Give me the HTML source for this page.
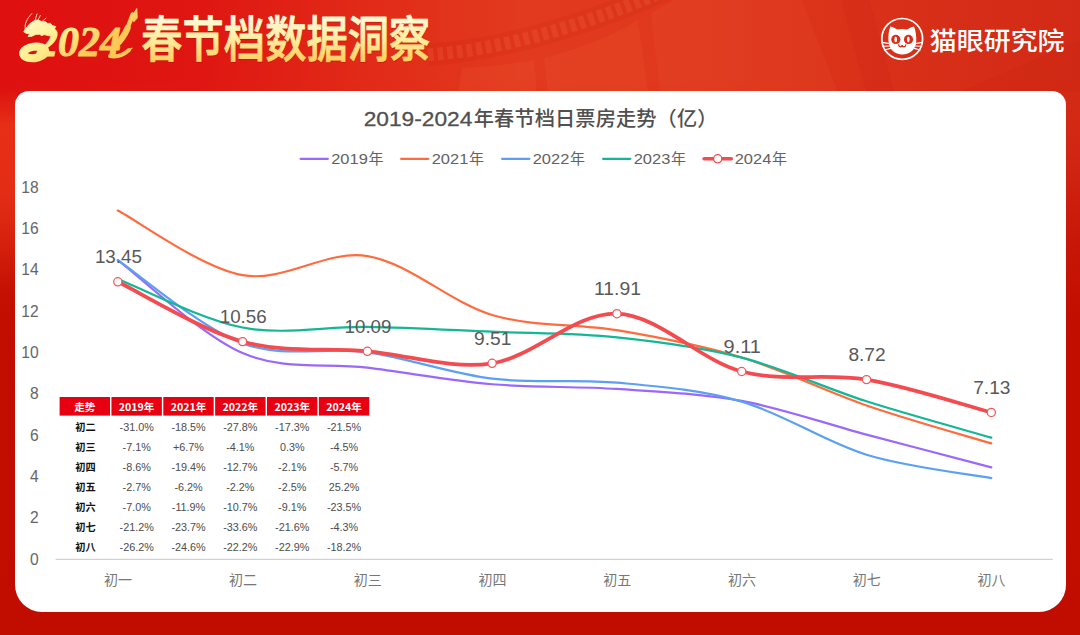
<!DOCTYPE html>
<html lang="zh-CN"><head><meta charset="utf-8"><title>2024春节档数据洞察</title>
<style>
html,body{margin:0;padding:0;}
body{width:1080px;height:635px;overflow:hidden;position:relative;background:#c20d00;font-family:"Liberation Sans","Noto Sans CJK SC",sans-serif;}
#bg{position:absolute;left:0;top:0;width:1080px;height:635px;
 background:linear-gradient(180deg,#d82c17 0px,#d62a16 95px,#cf2110 180px,#c61405 260px,#c20e00 320px,#c00d00 635px);}
#hd{position:absolute;left:0;top:0;width:1080px;height:200px;
 background:linear-gradient(90deg,#de1010 0px,#df1612 200px,#e12a18 360px,#e23a1e 520px,#e0381d 700px,#d93019 880px,#d22a16 1080px);
 -webkit-mask-image:linear-gradient(180deg,#000 0,#000 80px,transparent 200px);mask-image:linear-gradient(180deg,#000 0,#000 80px,transparent 200px);}
#lf{position:absolute;left:0;top:90px;width:16px;height:200px;background:linear-gradient(180deg,rgba(232,48,22,0) 0,rgba(232,48,22,.9) 35px,rgba(232,48,22,.85) 100px,rgba(232,48,22,0) 200px);}
#card{position:absolute;left:15.2px;top:91.3px;width:1050.6px;height:520.8px;background:#fff;border-radius:14px 14px 27px 27px;}
svg{position:absolute;left:0;top:0;}
text{font-family:"Liberation Sans","Noto Sans CJK SC",sans-serif;}
.cj{font-family:"Noto Sans CJK SC","Liberation Sans",sans-serif;}
</style></head><body>
<div id="bg"></div><div id="hd"></div><div id="lf"></div>
<div id="card"></div>
<svg width="1080" height="635" viewBox="0 0 1080 635">
<defs>
<linearGradient id="gold" gradientUnits="userSpaceOnUse" x1="0" y1="15" x2="0" y2="62"><stop offset="0" stop-color="#fffbe0"/><stop offset=".5" stop-color="#ffeea2"/><stop offset="1" stop-color="#ffcd5c"/></linearGradient>
<linearGradient id="gold2" gradientUnits="userSpaceOnUse" x1="40" y1="12" x2="75" y2="64"><stop offset="0" stop-color="#fffac4"/><stop offset=".5" stop-color="#ffee8e"/><stop offset="1" stop-color="#fcc856"/></linearGradient>
</defs>

<g id="hdr">
<text class="cj" x="141.3" y="56.6" font-size="49" font-weight="500" textLength="289" lengthAdjust="spacingAndGlyphs" fill="#a30c00" stroke="#a30c00" stroke-width=".9" opacity=".38" transform="translate(0.4,1.8)">春节档数据洞察</text>
<text class="cj" x="141.3" y="56.6" font-size="49" font-weight="500" textLength="289" lengthAdjust="spacingAndGlyphs" fill="url(#gold)" stroke="url(#gold)" stroke-width=".9" stroke-linejoin="round">春节档数据洞察</text>
<g id="film">
<path d="M428,54.8 Q535,47.4 671,-12" fill="none" stroke="#b81800" stroke-opacity=".10" stroke-width="22"/>
<path d="M428,54.8 Q535,47.4 671,-12" fill="none" stroke="#ff8a5a" stroke-opacity=".15" stroke-width="13" stroke-dasharray="5.8 3.9"/>
<path d="M462,68 Q500,66 534,60 L537,92 L458,92 Z" fill="#ff9a60" fill-opacity=".07"/>
<path d="M544,58 Q598,44 638,20 L648,92 L548,92 Z" fill="#ff9a60" fill-opacity=".07"/>
<path d="M651,13 Q690,-8 720,-30 L790,-30 L838,92 L660,92 Z" fill="#ff9a60" fill-opacity=".06"/>
<path d="M840,-5 L868,-5 L894,92 L866,92 Z" fill="#b00c00" fill-opacity=".07"/>
<path d="M960,92 L1080,40 L1080,92 Z" fill="#b00c00" fill-opacity=".06"/>
</g>
<g id="dragon" fill="none" stroke="url(#gold2)" stroke-linecap="round" stroke-linejoin="round">
<path d="M23.9,31.6 L25.2,29 L27.4,26.6 L30,23.6 L33,21.4 L36.5,20 L39.5,20.6 L42,21.8 L45,21.4 L47.5,23.4 L50.5,23.4 L52.5,25.6 L55.8,26.6 L54.4,29 L56,32 L55.6,36 L50,36 L44,34.6 L40,34.2 L35.5,34.6 L31.5,36.4 L28,36.6 L29.6,33.6 L26.6,33.4 Z" fill="url(#gold2)" stroke-width=".8"/>
<path d="M25.6,30 C23.6,25 27,18.5 31.8,13.6 M34.4,22.4 L37,14 M36.9,22 L40.4,15.4 M41.6,22 L46,18.2" stroke-width="1" stroke-opacity=".85"/>
<ellipse cx="34.2" cy="52.4" rx="11" ry="5.7" transform="rotate(-7 34.2 52.4)" stroke-width="8.2"/>
<text x="37" y="55.8" style="font-family:'Liberation Serif',serif" font-style="italic" font-weight="700" font-size="43" textLength="84" lengthAdjust="spacingAndGlyphs" fill="url(#gold2)" stroke-width=".9">2024</text>
<path d="M114.5,46.4 C120,41.5 124.8,35 127.6,28" stroke-width="6.2"/>
<path d="M126.6,30 C129,25 130.8,19.5 132.6,14.5" stroke-width="4.4"/>
<path d="M130.2,18.6 L136.8,8.6 L137.2,18 L134,21.6 Z" fill="url(#gold2)" stroke-width="1"/>
<path d="M110,56 C118.5,57.6 125,53.6 129,50" stroke-width="4"/>
<path d="M127,52 L132,48.2 L129.5,49.4 Z" fill="url(#gold2)" stroke-width="1.2"/>
</g>
<g id="cat">
<circle cx="902.2" cy="38.9" r="20.4" fill="none" stroke="#fff" stroke-width="1.7"/>
<path d="M888.6,42 C888,37 888.6,31 890.4,26.6 C893,27.2 895.6,28.6 897.4,29.6 C900.4,28.7 904.2,28.7 907,29.6 C908.8,28.6 911.4,27.2 914,26.6 C915.8,31 916.6,37 916.2,42 C915.6,49.5 910,54.4 902.4,54.4 C894.8,54.4 889.2,49.5 888.6,42 Z" fill="#fff"/>
<circle cx="895.8" cy="39.4" r="4.6" fill="#dc2c17"/><circle cx="908.5" cy="39.4" r="4.6" fill="#dc2c17"/>
<ellipse cx="895.7" cy="39.4" rx="1.3" ry="2.8" fill="#fff"/><ellipse cx="908.3" cy="39.4" rx="1.3" ry="2.8" fill="#fff"/>
<path d="M898.6,44.8 C899,47.4 901.8,47.6 902.2,45.2 C902.6,47.6 905.4,47.4 905.8,44.8" fill="none" stroke="#dc2c17" stroke-width="1.3" stroke-linecap="round"/>
<path d="M889.5,43.6 L882.2,42.4 M889.8,46 L882.8,46.2 M890.6,48.4 L884.4,50 M915.3,43.6 L922.4,42.4 M915,46 L921.8,46.2 M914.2,48.4 L920.2,50" stroke="#fff" stroke-width="1.1" stroke-linecap="round"/>
</g>
<text class="cj" x="929.8" y="49.9" font-size="25" font-weight="500" textLength="134.8" lengthAdjust="spacingAndGlyphs" fill="#fff">猫眼研究院</text>
</g>
<g id="chart">
<line x1="55.7" y1="559.4" x2="1052.8" y2="559.4" stroke="#d2d2d2" stroke-width="1.1"/>
<text x="38.7" y="564.5" font-size="15.6" text-anchor="end" fill="#666">0</text>
<text x="38.7" y="523.2" font-size="15.6" text-anchor="end" fill="#666">2</text>
<text x="38.7" y="481.8" font-size="15.6" text-anchor="end" fill="#666">4</text>
<text x="38.7" y="440.5" font-size="15.6" text-anchor="end" fill="#666">6</text>
<text x="38.7" y="399.2" font-size="15.6" text-anchor="end" fill="#666">8</text>
<text x="38.7" y="357.8" font-size="15.6" text-anchor="end" fill="#666">10</text>
<text x="38.7" y="316.5" font-size="15.6" text-anchor="end" fill="#666">12</text>
<text x="38.7" y="275.2" font-size="15.6" text-anchor="end" fill="#666">14</text>
<text x="38.7" y="233.8" font-size="15.6" text-anchor="end" fill="#666">16</text>
<text x="38.7" y="192.5" font-size="15.6" text-anchor="end" fill="#666">18</text>
<text class="cj" x="118.1" y="585.3" font-size="14" text-anchor="middle" fill="#777">初一</text>
<text class="cj" x="242.9" y="585.3" font-size="14" text-anchor="middle" fill="#777">初二</text>
<text class="cj" x="367.7" y="585.3" font-size="14" text-anchor="middle" fill="#777">初三</text>
<text class="cj" x="492.4" y="585.3" font-size="14" text-anchor="middle" fill="#777">初四</text>
<text class="cj" x="617.2" y="585.3" font-size="14" text-anchor="middle" fill="#777">初五</text>
<text class="cj" x="742.0" y="585.3" font-size="14" text-anchor="middle" fill="#777">初六</text>
<text class="cj" x="866.8" y="585.3" font-size="14" text-anchor="middle" fill="#777">初七</text>
<text class="cj" x="991.6" y="585.3" font-size="14" text-anchor="middle" fill="#777">初八</text>
<text x="363.7" y="125.8" font-size="20.2" textLength="108.6" lengthAdjust="spacingAndGlyphs" fill="#505050" stroke="#505050" stroke-width=".3">2019-2024</text>
<text class="cj" x="473.8" y="126.3" font-size="20.2" font-weight="500" textLength="243.6" fill="#505050">年春节档日票房走势（亿）</text>
<line x1="300.6" y1="158.8" x2="327.8" y2="158.8" stroke="#9b68fc" stroke-width="2.3" stroke-linecap="round"/>
<text x="331.2" y="164" font-size="15.4" textLength="36.6" lengthAdjust="spacingAndGlyphs" fill="#626262">2019</text>
<text class="cj" x="368.4" y="164.3" font-size="15" fill="#626262">年</text>
<line x1="401.1" y1="158.8" x2="428.3" y2="158.8" stroke="#ff6b3d" stroke-width="2.3" stroke-linecap="round"/>
<text x="431.7" y="164" font-size="15.4" textLength="36.6" lengthAdjust="spacingAndGlyphs" fill="#626262">2021</text>
<text class="cj" x="468.9" y="164.3" font-size="15" fill="#626262">年</text>
<line x1="502.1" y1="158.8" x2="529.3" y2="158.8" stroke="#5ba0f2" stroke-width="2.3" stroke-linecap="round"/>
<text x="532.7" y="164" font-size="15.4" textLength="36.6" lengthAdjust="spacingAndGlyphs" fill="#626262">2022</text>
<text class="cj" x="569.9" y="164.3" font-size="15" fill="#626262">年</text>
<line x1="603.1" y1="158.8" x2="630.3" y2="158.8" stroke="#12b796" stroke-width="2.3" stroke-linecap="round"/>
<text x="633.7" y="164" font-size="15.4" textLength="36.6" lengthAdjust="spacingAndGlyphs" fill="#626262">2023</text>
<text class="cj" x="670.9" y="164.3" font-size="15" fill="#626262">年</text>
<line x1="704.1" y1="158.8" x2="731.3" y2="158.8" stroke="#f34c50" stroke-width="3.6" stroke-linecap="round"/>
<circle cx="717.7" cy="158.8" r="4.1" fill="#fff" stroke="#f34c50" stroke-width="1.3"/>
<text x="734.7" y="164" font-size="15.4" textLength="36.6" lengthAdjust="spacingAndGlyphs" fill="#626262">2024</text>
<text class="cj" x="771.9" y="164.3" font-size="15" fill="#626262">年</text>
<path d="M117.80,210.53 C138.60,221.30 200.99,267.56 242.58,275.15 C284.17,282.74 325.77,249.43 367.36,256.08 C408.95,262.72 450.55,302.65 492.14,315.00 C533.73,327.35 575.33,323.09 616.92,330.18 C658.51,337.26 700.11,344.96 741.70,357.50 C783.29,370.05 824.89,391.13 866.48,405.45 C908.07,419.77 970.46,437.09 991.26,443.42" fill="none" stroke="#ff6b3d" stroke-width="2.2" stroke-linecap="round" stroke-linejoin="round"/>
<path d="M117.80,260.13 C138.60,275.62 200.99,335.10 242.58,353.03 C284.17,370.96 325.77,362.51 367.36,367.71 C408.95,372.91 450.55,380.69 492.14,384.23 C533.73,387.77 575.33,386.19 616.92,388.97 C658.51,391.75 700.11,393.32 741.70,400.93 C783.29,408.54 824.89,423.53 866.48,434.61 C908.07,445.69 970.46,461.94 991.26,467.41" fill="none" stroke="#9b68fc" stroke-width="2.2" stroke-linecap="round" stroke-linejoin="round"/>
<path d="M117.80,260.13 C138.60,274.02 200.99,328.08 242.58,343.44 C284.17,358.80 325.77,346.44 367.36,352.31 C408.95,358.18 450.55,373.61 492.14,378.66 C533.73,383.72 575.33,378.82 616.92,382.65 C658.51,386.47 700.11,389.58 741.70,401.60 C783.29,413.62 824.89,442.01 866.48,454.76 C908.07,467.50 970.46,474.19 991.26,478.08" fill="none" stroke="#5ba0f2" stroke-width="2.2" stroke-linecap="round" stroke-linejoin="round"/>
<path d="M117.80,278.94 C138.60,287.04 200.99,319.55 242.58,327.53 C284.17,335.51 325.77,326.13 367.36,326.83 C408.95,327.53 450.55,329.96 492.14,331.72 C533.73,333.49 575.33,333.10 616.92,337.43 C658.51,341.75 700.11,347.01 741.70,357.66 C783.29,368.31 824.89,388.00 866.48,401.32 C908.07,414.65 970.46,431.57 991.26,437.61" fill="none" stroke="#12b796" stroke-width="2.2" stroke-linecap="round" stroke-linejoin="round"/>
<path d="M117.80,281.83 C138.60,291.79 200.99,329.99 242.58,341.56 C284.17,353.13 325.77,347.66 367.36,351.27 C408.95,354.89 450.55,369.53 492.14,363.26 C533.73,356.99 575.33,312.28 616.92,313.66 C658.51,315.04 700.11,360.54 741.70,371.53 C783.29,382.51 824.89,372.77 866.48,379.59 C908.07,386.41 970.46,406.97 991.26,412.45" fill="none" stroke="#f34c50" stroke-width="3.8" stroke-linecap="round" stroke-linejoin="round"/>
<circle cx="117.8" cy="281.8" r="4.1" fill="#fff" stroke="#f4585b" stroke-width="1.25"/>
<text x="94.9" y="263.2" font-size="17.5" textLength="47.0" lengthAdjust="spacingAndGlyphs" fill="#595959">13.45</text>
<circle cx="242.6" cy="341.6" r="4.1" fill="#fff" stroke="#f4585b" stroke-width="1.25"/>
<text x="219.7" y="323.0" font-size="17.5" textLength="47.0" lengthAdjust="spacingAndGlyphs" fill="#595959">10.56</text>
<circle cx="367.4" cy="351.3" r="4.1" fill="#fff" stroke="#f4585b" stroke-width="1.25"/>
<text x="344.5" y="332.7" font-size="17.5" textLength="47.0" lengthAdjust="spacingAndGlyphs" fill="#595959">10.09</text>
<circle cx="492.1" cy="363.3" r="4.1" fill="#fff" stroke="#f4585b" stroke-width="1.25"/>
<text x="474.1" y="344.7" font-size="17.5" textLength="37.3" lengthAdjust="spacingAndGlyphs" fill="#595959">9.51</text>
<circle cx="616.9" cy="313.7" r="4.1" fill="#fff" stroke="#f4585b" stroke-width="1.25"/>
<text x="594.0" y="295.1" font-size="17.5" textLength="47.0" lengthAdjust="spacingAndGlyphs" fill="#595959">11.91</text>
<circle cx="741.7" cy="371.5" r="4.1" fill="#fff" stroke="#f4585b" stroke-width="1.25"/>
<text x="723.6" y="352.9" font-size="17.5" textLength="37.3" lengthAdjust="spacingAndGlyphs" fill="#595959">9.11</text>
<circle cx="866.5" cy="379.6" r="4.1" fill="#fff" stroke="#f4585b" stroke-width="1.25"/>
<text x="848.4" y="361.0" font-size="17.5" textLength="37.3" lengthAdjust="spacingAndGlyphs" fill="#595959">8.72</text>
<circle cx="991.3" cy="412.4" r="4.1" fill="#fff" stroke="#f4585b" stroke-width="1.25"/>
<text x="973.2" y="393.8" font-size="17.5" textLength="37.3" lengthAdjust="spacingAndGlyphs" fill="#595959">7.13</text>
</g>
<g id="tbl">
<rect x="59.60" y="397" width="50.40" height="18.6" fill="#e60012"/>
<text class="cj" x="84.80" y="411" font-size="10.6" font-weight="700" text-anchor="middle" fill="#fff">走势</text>
<rect x="111.45" y="397" width="50.40" height="18.6" fill="#e60012"/>
<text class="cj" x="136.65" y="411" font-size="10.6" font-weight="700" text-anchor="middle" fill="#fff">2019年</text>
<rect x="163.30" y="397" width="50.40" height="18.6" fill="#e60012"/>
<text class="cj" x="188.50" y="411" font-size="10.6" font-weight="700" text-anchor="middle" fill="#fff">2021年</text>
<rect x="215.15" y="397" width="50.40" height="18.6" fill="#e60012"/>
<text class="cj" x="240.35" y="411" font-size="10.6" font-weight="700" text-anchor="middle" fill="#fff">2022年</text>
<rect x="267.00" y="397" width="50.40" height="18.6" fill="#e60012"/>
<text class="cj" x="292.20" y="411" font-size="10.6" font-weight="700" text-anchor="middle" fill="#fff">2023年</text>
<rect x="318.85" y="397" width="50.40" height="18.6" fill="#e60012"/>
<text class="cj" x="344.05" y="411" font-size="10.6" font-weight="700" text-anchor="middle" fill="#fff">2024年</text>
<text class="cj" x="85.40" y="430.8" font-size="10.2" font-weight="700" text-anchor="middle" fill="#111">初二</text>
<text x="136.65" y="430.9" font-size="10.8" text-anchor="middle" fill="#4c4c4c">-31.0%</text>
<text x="188.50" y="430.9" font-size="10.8" text-anchor="middle" fill="#4c4c4c">-18.5%</text>
<text x="240.35" y="430.9" font-size="10.8" text-anchor="middle" fill="#4c4c4c">-27.8%</text>
<text x="292.20" y="430.9" font-size="10.8" text-anchor="middle" fill="#4c4c4c">-17.3%</text>
<text x="344.05" y="430.9" font-size="10.8" text-anchor="middle" fill="#4c4c4c">-21.5%</text>
<text class="cj" x="85.40" y="450.9" font-size="10.2" font-weight="700" text-anchor="middle" fill="#111">初三</text>
<text x="136.65" y="450.9" font-size="10.8" text-anchor="middle" fill="#4c4c4c">-7.1%</text>
<text x="188.50" y="450.9" font-size="10.8" text-anchor="middle" fill="#4c4c4c">+6.7%</text>
<text x="240.35" y="450.9" font-size="10.8" text-anchor="middle" fill="#4c4c4c">-4.1%</text>
<text x="292.20" y="450.9" font-size="10.8" text-anchor="middle" fill="#4c4c4c">0.3%</text>
<text x="344.05" y="450.9" font-size="10.8" text-anchor="middle" fill="#4c4c4c">-4.5%</text>
<text class="cj" x="85.40" y="470.9" font-size="10.2" font-weight="700" text-anchor="middle" fill="#111">初四</text>
<text x="136.65" y="471.0" font-size="10.8" text-anchor="middle" fill="#4c4c4c">-8.6%</text>
<text x="188.50" y="471.0" font-size="10.8" text-anchor="middle" fill="#4c4c4c">-19.4%</text>
<text x="240.35" y="471.0" font-size="10.8" text-anchor="middle" fill="#4c4c4c">-12.7%</text>
<text x="292.20" y="471.0" font-size="10.8" text-anchor="middle" fill="#4c4c4c">-2.1%</text>
<text x="344.05" y="471.0" font-size="10.8" text-anchor="middle" fill="#4c4c4c">-5.7%</text>
<text class="cj" x="85.40" y="490.9" font-size="10.2" font-weight="700" text-anchor="middle" fill="#111">初五</text>
<text x="136.65" y="491.0" font-size="10.8" text-anchor="middle" fill="#4c4c4c">-2.7%</text>
<text x="188.50" y="491.0" font-size="10.8" text-anchor="middle" fill="#4c4c4c">-6.2%</text>
<text x="240.35" y="491.0" font-size="10.8" text-anchor="middle" fill="#4c4c4c">-2.2%</text>
<text x="292.20" y="491.0" font-size="10.8" text-anchor="middle" fill="#4c4c4c">-2.5%</text>
<text x="344.05" y="491.0" font-size="10.8" text-anchor="middle" fill="#4c4c4c">25.2%</text>
<text class="cj" x="85.40" y="511.0" font-size="10.2" font-weight="700" text-anchor="middle" fill="#111">初六</text>
<text x="136.65" y="511.1" font-size="10.8" text-anchor="middle" fill="#4c4c4c">-7.0%</text>
<text x="188.50" y="511.1" font-size="10.8" text-anchor="middle" fill="#4c4c4c">-11.9%</text>
<text x="240.35" y="511.1" font-size="10.8" text-anchor="middle" fill="#4c4c4c">-10.7%</text>
<text x="292.20" y="511.1" font-size="10.8" text-anchor="middle" fill="#4c4c4c">-9.1%</text>
<text x="344.05" y="511.1" font-size="10.8" text-anchor="middle" fill="#4c4c4c">-23.5%</text>
<text class="cj" x="85.40" y="531.0" font-size="10.2" font-weight="700" text-anchor="middle" fill="#111">初七</text>
<text x="136.65" y="531.1" font-size="10.8" text-anchor="middle" fill="#4c4c4c">-21.2%</text>
<text x="188.50" y="531.1" font-size="10.8" text-anchor="middle" fill="#4c4c4c">-23.7%</text>
<text x="240.35" y="531.1" font-size="10.8" text-anchor="middle" fill="#4c4c4c">-33.6%</text>
<text x="292.20" y="531.1" font-size="10.8" text-anchor="middle" fill="#4c4c4c">-21.6%</text>
<text x="344.05" y="531.1" font-size="10.8" text-anchor="middle" fill="#4c4c4c">-4.3%</text>
<text class="cj" x="85.40" y="551.1" font-size="10.2" font-weight="700" text-anchor="middle" fill="#111">初八</text>
<text x="136.65" y="551.2" font-size="10.8" text-anchor="middle" fill="#4c4c4c">-26.2%</text>
<text x="188.50" y="551.2" font-size="10.8" text-anchor="middle" fill="#4c4c4c">-24.6%</text>
<text x="240.35" y="551.2" font-size="10.8" text-anchor="middle" fill="#4c4c4c">-22.2%</text>
<text x="292.20" y="551.2" font-size="10.8" text-anchor="middle" fill="#4c4c4c">-22.9%</text>
<text x="344.05" y="551.2" font-size="10.8" text-anchor="middle" fill="#4c4c4c">-18.2%</text>
</g>
</svg></body></html>
